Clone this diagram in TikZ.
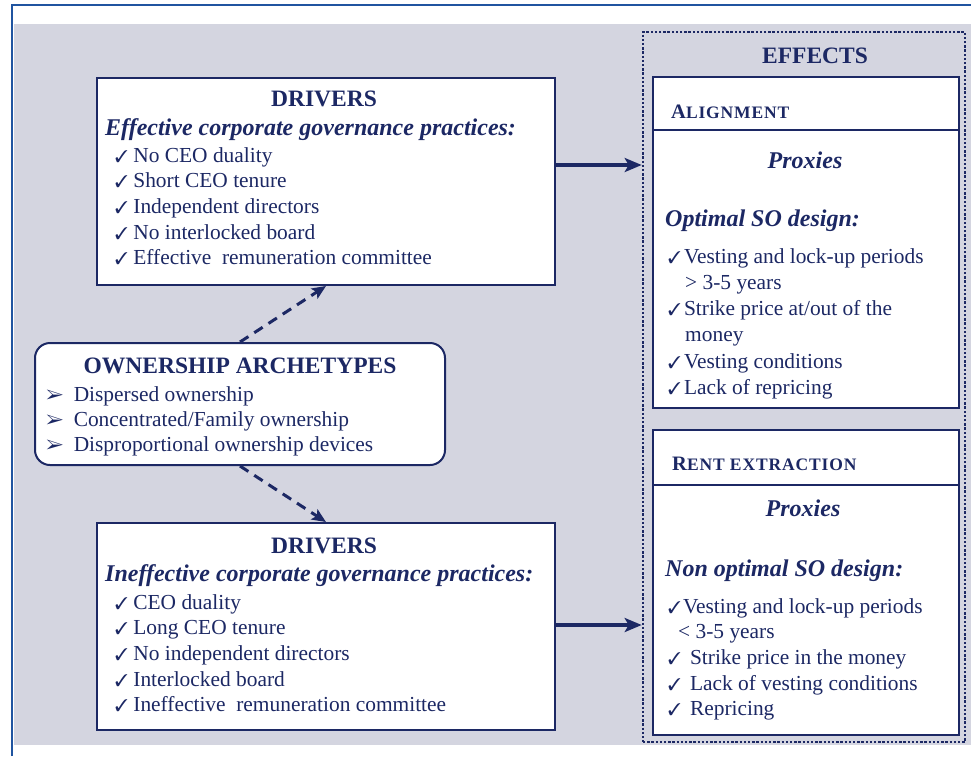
\documentclass[tikz,border=0pt]{standalone}
\usepackage{fontspec}
\setmainfont{Liberation Serif}
\usepackage{pifont}
\usetikzlibrary{positioning, arrows.meta}

\definecolor{navy}{RGB}{28,40,100}
\definecolor{frameblue}{RGB}{32,84,160}
\definecolor{panelgray}{RGB}{212,213,224}

\newcommand{\chk}{{\fontsize{17}{17}\selectfont\ding{51}}}
\newcommand{\pointer}{{\fontsize{19}{19}\selectfont\ding{226}}}
\newcommand{\capsc}[2]{{\fontsize{20.5}{24}\selectfont #1}{\fontsize{17.5}{20}\selectfont\addfontfeature{LetterSpace=5}#2}}

\begin{document}
\begin{tikzpicture}[x=1pt, y=-1pt, text=navy, font=\fontsize{21.4}{25}\selectfont,
    box/.style={draw=navy, line width=2pt, fill=white, inner sep=0pt},
    title/.style={font=\fontsize{23.5}{28}\selectfont\bfseries, anchor=base},
    subtitle/.style={font=\fontsize{24}{28}\selectfont\bfseries\itshape},
    entry/.style={anchor=base west, inner sep=0pt},
    flow/.style={navy, line width=3.5pt, -{Stealth[length=17pt, width=14pt, inset=4pt]}},
    link/.style={navy, line width=3pt, dash pattern=on 10pt off 7pt, -{Stealth[length=14pt, width=12pt, inset=3pt]}}]
    \useasboundingbox (0,0) rectangle (971,756);
    \fill[white] (0,0) rectangle (971,756);

    % page frame and grey panel
    \fill[panelgray] (14,24) rectangle (971,745);
    \draw[frameblue, line width=2.5pt] (12,756) -- (12,5) -- (971,5);

    % effects column
    \node[draw=navy, line width=2.6pt, dash pattern=on 2.4pt off 1.8pt, minimum width=322pt, minimum height=710pt, inner sep=0pt] (effects) at (804,387) {};
    \node[title] (effects-title) at (815,63.3) {EFFECTS};

    % alignment
    \node[box, minimum width=306pt, minimum height=331pt] (alignbox) at (806,242.5) {};
    \draw[navy, line width=2pt] (alignbox.west |- 0,130) -- (alignbox.east |- 0,130);
    \node[entry, font=\bfseries] (align-head) at (671,118.3) {\capsc{A}{LIGNMENT}};
    \node[subtitle, anchor=base] (align-proxy) at (805,168) {Proxies};
    \node[subtitle, entry] (align-design) at (665,226.7) {Optimal SO design:};
    \node[entry] (align-1) at (668,263.3) {\chk\hspace{3pt}Vesting and lock-up periods};
    \node[entry] (align-1b) at (685,289.5) {> 3-5 years};
    \node[entry] (align-2) at (668,315.7) {\chk\hspace{3pt}Strike price at/out of the};
    \node[entry] (align-2b) at (685,341.9) {money};
    \node[entry] (align-3) at (668,368.1) {\chk\hspace{3pt}Vesting conditions};
    \node[entry] (align-4) at (668,394.3) {\chk\hspace{3pt}Lack of repricing};

    % rent extraction
    \node[box, minimum width=306pt, minimum height=305pt] (rentbox) at (806,582.5) {};
    \draw[navy, line width=2pt] (rentbox.west |- 0,485) -- (rentbox.east |- 0,485);
    \node[entry, font=\bfseries] (rent-head) at (672,470) {\capsc{R}{ENT EXTRACTION}};
    \node[subtitle, anchor=base] (rent-proxy) at (803,516.7) {Proxies};
    \node[subtitle, entry] (rent-design) at (665,576.7) {Non optimal SO design:};
    \node[entry] (rent-1) at (668,613.3) {\chk\hspace{2pt}Vesting and lock-up periods};
    \node[entry] (rent-1b) at (678,638.3) {< 3-5 years};
    \node[entry] (rent-2) at (668,664.3) {\chk\hspace{9pt}Strike price in the money};
    \node[entry] (rent-3) at (668,690) {\chk\hspace{9pt}Lack of vesting conditions};
    \node[entry] (rent-4) at (668,715.5) {\chk\hspace{9pt}Repricing};

    % drivers: effective practices
    \node[box, minimum width=458pt, minimum height=207pt] (drvtop) at (326,181.5) {};
    \node[title] (drvtop-title) at (324,106.5) {DRIVERS};
    \node[subtitle, entry] (drvtop-sub) at (105,135) {Effective corporate governance practices:};
    \foreach \txt [count=\i] in {No CEO duality, Short CEO tenure, Independent directors,
        No interlocked board, Effective\ \ remuneration committee}
        \node[entry] (drvtop-\i) at (115,{136.3+25.7*\i}) {\chk\ \txt};

    % drivers: ineffective practices
    \node[box, minimum width=458pt, minimum height=207pt] (drvbot) at (326,626.5) {};
    \node[title] (drvbot-title) at (324,553.3) {DRIVERS};
    \node[subtitle, entry] (drvbot-sub) at (105,581.7) {Ineffective corporate governance practices:};
    \foreach \txt [count=\i] in {CEO duality, Long CEO tenure, No independent directors,
        Interlocked board, Ineffective\ \ remuneration committee}
        \node[entry] (drvbot-\i) at (115,{583.6+25.6*\i}) {\chk\ \txt};

    % ownership archetypes
    \node[box, rounded corners=15pt, minimum width=410pt, minimum height=122pt] (own) at (240,404) {};
    \node[title] (own-title) at (240,373.3) {OWNERSHIP ARCHETYPES};
    \foreach \txt [count=\i] in {Dispersed ownership, Concentrated/Family ownership,
        Disproportional ownership devices}
        \node[entry] (own-\i) at (46,{376.7+25*\i}) {\pointer\hspace{10pt}\txt};

    % connectors
    \draw[link] (own.north) -- (drvtop.south);
    \draw[link] (own.south) -- (drvbot.north);
    \draw[flow] (drvtop.east |- 0,165) -- (effects.west |- 0,165);
    \draw[flow] (drvbot.east |- 0,625) -- (effects.west |- 0,625);
\end{tikzpicture}
\end{document}
